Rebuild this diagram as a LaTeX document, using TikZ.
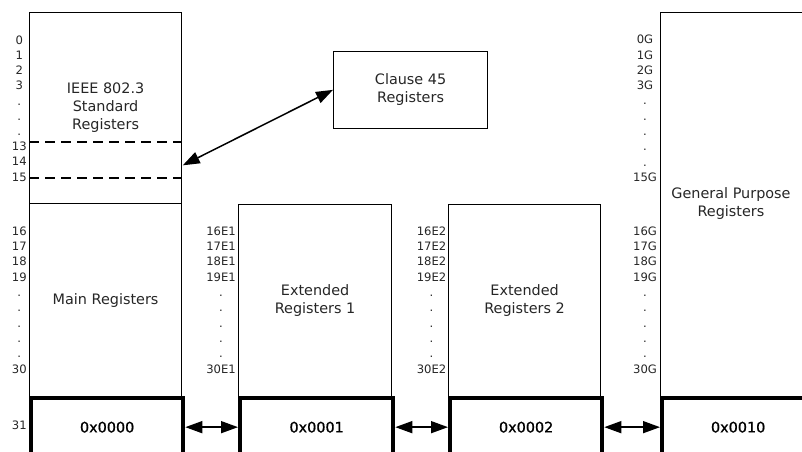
\documentclass[tikz,border=0pt]{standalone}
\usepackage{fontspec}
\setmainfont{DejaVu Sans}
\newfontfamily\hexfont[FakeBold=0.9]{DejaVu Sans}
\usetikzlibrary{arrows.meta}
\begin{document}
\begin{tikzpicture}[x=1pt,y=-1pt,
  box/.style={draw=black, line width=1.2pt, inner sep=0pt, anchor=north west},
  thick box/.style={draw=black, line width=4.3pt, inner sep=0pt, anchor=north west},
  txt/.style={text=black!85, font=\fontsize{14.4}{18}\selectfont, align=center, inner sep=0pt},
  hex/.style={text=black, font=\hexfont\fontsize{14.4}{18}\selectfont, inner sep=0pt},
  lbl/.style={text=black!85, font=\fontsize{11.6}{14}\selectfont, inner sep=0pt, text height=8.5pt, text depth=0pt},
  sepline/.style={line width=2.2pt, dash pattern=on 10pt off 6pt},
  link/.style={line width=1.5pt, {Triangle[length=17pt,width=12pt]}-{Triangle[length=17pt,width=12pt]}},
]
\useasboundingbox (0,0) rectangle (802,451);
\clip (0,0) rectangle (802,451);

% main stack
\node[box, txt, minimum width=152pt, minimum height=191pt] (std) at (29,12) {IEEE 802.3\\Standard\\Registers};
\node[box, txt, minimum width=152pt, minimum height=193pt] (main) at (29,203) {Main Registers};
\node[thick box, hex, minimum width=152pt, minimum height=58pt] (m0) at (29,396) {0x0000};

% extended 1
\node[box, txt, minimum width=153pt, minimum height=192pt] (ext1) at (238,204) {Extended\\Registers 1};
\node[thick box, hex, minimum width=153pt, minimum height=58pt] (e1) at (238,396) {0x0001};

% extended 2
\node[box, txt, minimum width=152pt, minimum height=192pt] (ext2) at (448,204) {Extended\\Registers 2};
\node[thick box, hex, minimum width=152pt, minimum height=58pt] (e2) at (448,396) {0x0002};

% general purpose
\node[box, minimum width=150pt, minimum height=384pt] (gp) at (660,12) {};
\node[txt] (gptext) at (731,204) {General Purpose\\Registers};
\node[thick box, hex, minimum width=152pt, minimum height=58pt] (g0) at (660,396) {0x0010};

% clause 45
\node[box, txt, minimum width=154pt, minimum height=76.5pt] (cl) at (333,51) {Clause 45\\Registers};

% dashed separators
\draw[sepline] ([yshift=-33.5pt]std.west) -- ([yshift=-33.5pt]std.east);
\draw[sepline] ([yshift=-69.5pt]std.west) -- ([yshift=-69.5pt]std.east);

% connectors
\draw[link, shorten <=0.6pt] ([yshift=-57.5pt]std.east) -- (cl.west);
\draw[link] (m0.east) -- (e1.west);
\draw[link] (e1.east) -- (e2.west);
\draw[link] (e2.east) -- (g0.west);

% register labels
\foreach \t [count=\i from 0] in {0,1,2,3,.,.,.,13,14,15}
  \node[lbl] (la\i) at (19.3, 40+15.2*\i) {\t};
\foreach \t [count=\i from 0] in {16,17,18,19,.,.,.,.,.,30}
  \node[lbl] (lb\i) at (19.3, 231+15.33*\i) {\t};
\node[lbl] (l31) at (19.3,425) {31};
\foreach \t [count=\i from 0] in {16E1,17E1,18E1,19E1,.,.,.,.,.,30E1}
  \node[lbl] (lc\i) at (221, 231+15.33*\i) {\t};
\foreach \t [count=\i from 0] in {16E2,17E2,18E2,19E2,.,.,.,.,.,30E2}
  \node[lbl] (ld\i) at (431.5, 231+15.33*\i) {\t};
\foreach \t [count=\i from 0] in {0G,1G,2G,3G,.,.,.,.,.,15G}
  \node[lbl] (le\i) at (645, 39.5+15.3*\i) {\t};
\foreach \t [count=\i from 0] in {16G,17G,18G,19G,.,.,.,.,.,30G}
  \node[lbl] (lf\i) at (645, 231+15.33*\i) {\t};
\end{tikzpicture}
\end{document}
